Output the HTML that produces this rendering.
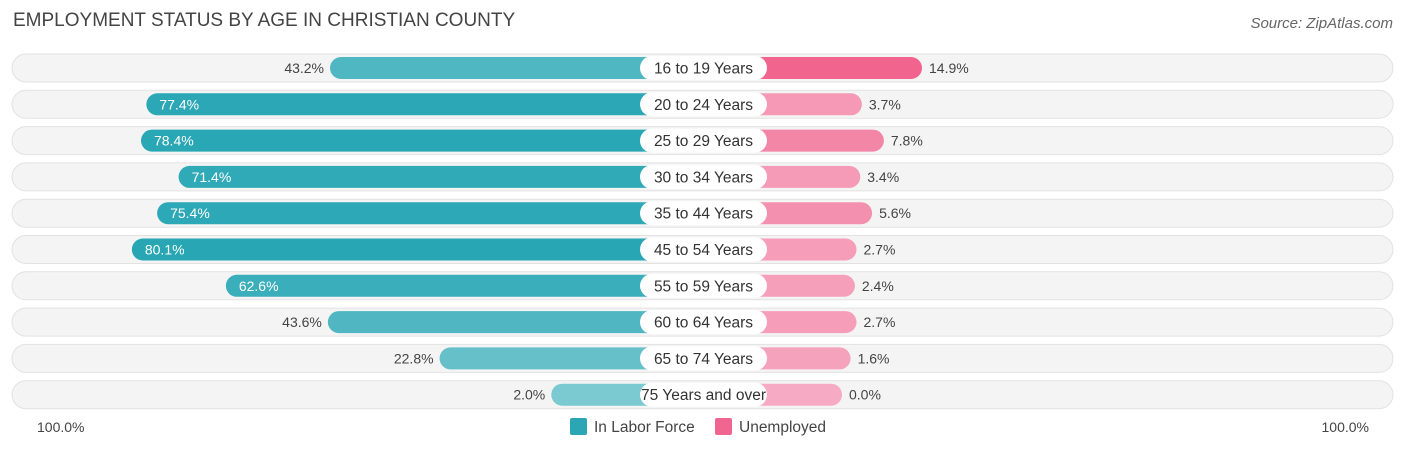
<!DOCTYPE html>
<html><head><meta charset="utf-8"><style>
body{margin:0;width:1406px;height:451px;background:#fff;font-family:"Liberation Sans",sans-serif;overflow:hidden;position:relative}
.t{position:absolute;left:13px;top:10px;font-size:19px;color:#444}
.s{position:absolute;right:13px;top:15px;font-size:15px;color:#666;font-style:italic}
</style></head><body>
<div class="t">EMPLOYMENT STATUS BY AGE IN CHRISTIAN COUNTY</div>
<div class="s">Source: ZipAtlas.com</div>
<svg id="c" width="1406" height="451" style="position:absolute;left:0;top:0"></svg>
<script>
const categories=["16 to 19 Years","20 to 24 Years","25 to 29 Years","30 to 34 Years","35 to 44 Years","45 to 54 Years","55 to 59 Years","60 to 64 Years","65 to 74 Years","75 Years and over"];
const laborForce=[43.2,77.4,78.4,71.4,75.4,80.1,62.6,43.6,22.8,2.0];
const unemployed=[14.9,3.7,7.8,3.4,5.6,2.7,2.4,2.7,1.6,0.0];
const NS="http://www.w3.org/2000/svg";
const svg=document.getElementById('c');
const L0=562,R0=842,K=5.37,Y0=68,DY=36.3;
function xl(v){return L0-v*K;}
function xr(v){return R0+v*K;}
function mix(a,b,t){return 'rgb('+a.map((x,i)=>Math.round(x+(b[i]-x)*t)).join(',')+')';}
function el(tag,attrs){const e=document.createElementNS(NS,tag);for(const k in attrs)e.setAttribute(k,attrs[k]);svg.appendChild(e);return e;}
const maxL=Math.max(...laborForce),maxU=Math.max(...unemployed)||1;
categories.forEach((c,i)=>{
  const y=Y0+i*DY;
  const bg=el('rect',{x:12,y:y-14,width:1381,height:28,rx:14,fill:'#f4f4f4',stroke:'#e2e2e2','stroke-width':1});
  
  
  const lv=laborForce[i],uv=unemployed[i];
  const lb=el('rect',{x:xl(lv),y:y-11,width:702-xl(lv),height:22,rx:11,fill:mix([125,202,210],[40,166,180],lv/maxL)});
  
  
  const ub=el('rect',{x:702,y:y-11,width:xr(uv)-702,height:22,rx:11,fill:mix([246,170,195],[240,100,142],uv/maxU)});
  
  
  const pill=el('rect',{x:640,y:y-12,width:127,height:24,rx:12,fill:'#fff'});
  
  
  const ct=el('text',{x:703.5,y:y+5.5,'text-anchor':'middle','font-size':15.5,fill:'#333'});
  ct.textContent=c;
  
  
  const inside=lv>50;
  const lt=el('text',{x:inside?xl(lv)+13:xl(lv)-6,y:y+5,'text-anchor':inside?'start':'end','font-size':14,fill:inside?'#fff':'#444'});
  lt.textContent=lv.toFixed(1)+'%';
  
  
  const ut=el('text',{x:xr(uv)+7,y:y+5,'font-size':14,fill:'#444'});
  ut.textContent=uv.toFixed(1)+'%';
  
  
});
const a1=el('text',{x:37,y:432,'font-size':14,fill:'#444'});a1.textContent='100.0%';


const a2=el('text',{x:1369,y:432,'text-anchor':'end','font-size':14,fill:'#444'});a2.textContent='100.0%';


const s1=el('rect',{x:570,y:418,width:17,height:17,rx:2,fill:'#2aa6b5'});


const t1=el('text',{x:594,y:432,'font-size':15.5,fill:'#444'});t1.textContent='In Labor Force';


const s2=el('rect',{x:715,y:418,width:17,height:17,rx:2,fill:'#f06690'});


const t2=el('text',{x:739,y:432,'font-size':15.5,fill:'#444'});t2.textContent='Unemployed';


</script>
</body></html>
